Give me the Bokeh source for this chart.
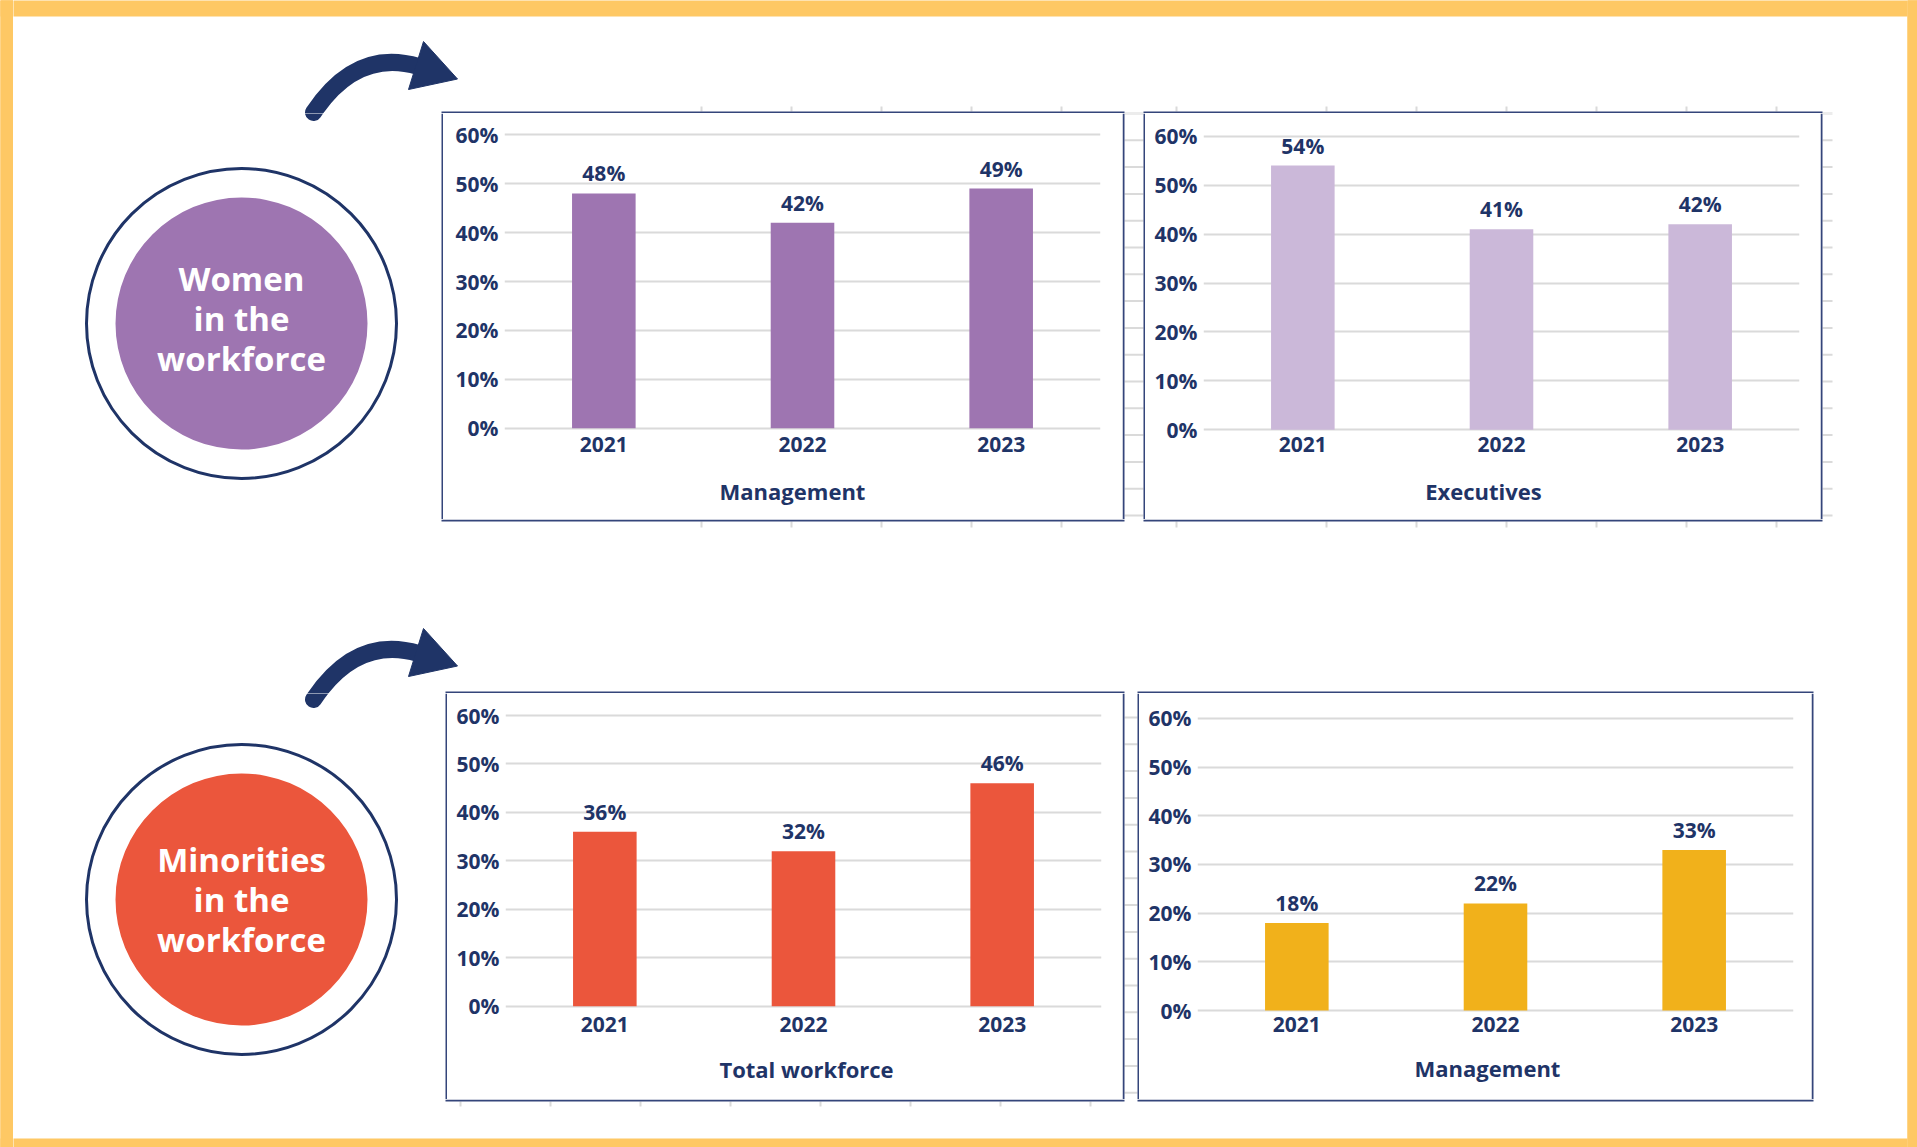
from bokeh.plotting import figure
from bokeh.layouts import row, column
from bokeh.models import Range1d, FactorRange, FixedTicker, PrintfTickFormatter, ColumnDataSource
from bokeh.core.properties import value
from bokeh.embed import file_html
from bokeh.resources import INLINE

# ---------------- data ----------------
years = ["2021", "2022", "2023"]
women_management = [48, 42, 49]
women_executives = [54, 41, 42]
minorities_total = [36, 32, 46]
minorities_management = [18, 22, 33]
pct_ticks = [0, 10, 20, 30, 40, 50, 60]
panel_titles = ["Management", "Executives", "Total workforce", "Management"]
circle_lines_women = ["Women", "in the", "workforce"]
circle_lines_minorities = ["Minorities", "in the", "workforce"]

# ---------------- style / layout ----------------
W, H = 1917, 1147
NAVY = "#1F3467"
BOXLINE = "#34457A"
GRID = "#DADADA"
ORANGE = "#FEC864"
PURPLE = "#9E75B1"
LILAC = "#CBB8D9"
RED = "#EB563C"
YELLOW = "#F1B11B"
FONT = "Open Sans"

panels = [
    dict(box=(443, 113, 1122, 519), zero=427.7, s=4.89, left=504, right=1100,
         title_xy=(792, 490.5), cat_standoff=0),
    dict(box=(1145, 113, 1820, 519), zero=429.3, s=4.893, left=1203, right=1799,
         title_xy=(1483, 490.5), cat_standoff=-2),
    dict(box=(447, 693, 1122, 1099), zero=1005.7, s=4.845, left=505, right=1101,
         title_xy=(806, 1068.5), cat_standoff=2),
    dict(box=(1139, 693, 1811, 1099), zero=1010.0, s=4.867, left=1197, right=1793,
         title_xy=(1487, 1067.5), cat_standoff=-2),
]

circles = [
    dict(cx=241, cy=323, color=PURPLE, lines=circle_lines_women, ty=277.5),
    dict(cx=241, cy=899, color=RED, lines=circle_lines_minorities, ty=859.0),
]
arrow_offsets = [0, 587]


def make_deco(x0, y0, w, h, fill="white"):
    p = figure(width=w, height=h, x_range=Range1d(x0, x0 + w), y_range=Range1d(y0 + h, y0),
               output_backend="svg", toolbar_location=None, min_border=0, frame_align=False,
               x_axis_location=None, y_axis_location=None,
               background_fill_color=fill, border_fill_color=fill)
    p.outline_line_color = None
    p.grid.visible = False

    def hit(a0, b0, a1, b1):
        return a1 > x0 and a0 < x0 + w and b1 > y0 and b0 < y0 + h

    # orange frame
    for (a0, b0, a1, b1) in [(0, 0, W, 14), (0, 1140, W, H), (0, 0, 13, H), (1907, 0, W, H)]:
        if hit(a0, b0, a1, b1):
            p.quad(left=a0 - 2, right=a1 + 2, top=b0 - 2, bottom=b1 + 2,
                   fill_color=ORANGE, line_color=None)

    # faint grey sheet marks
    segs = []
    for k in range(16):
        yy = 113 + 26.8 * k
        segs.append((1124, yy, 1143, yy))
        segs.append((1822, yy, 1832, yy))
    for k in range(15):
        yy = 717 + 26.8 * k
        segs.append((1124, yy, 1137, yy))
    for k in range(5):
        xx = 701 + 90 * k
        segs.append((xx, 106, xx, 111))
        segs.append((xx, 521, xx, 527))
    for xx in [1176] + [1326 + 90 * k for k in range(6)]:
        segs.append((xx, 106, xx, 111))
        segs.append((xx, 521, xx, 527))
    for k in range(8):
        xx = 460 + 90 * k
        segs.append((xx, 1101, xx, 1106))
    segs = [sg for sg in segs if hit(min(sg[0], sg[2]) - 1, min(sg[1], sg[3]) - 1,
                                     max(sg[0], sg[2]) + 1, max(sg[1], sg[3]) + 1)]
    if segs:
        p.segment(x0=[sg[0] for sg in segs], y0=[sg[1] for sg in segs],
                  x1=[sg[2] for sg in segs], y1=[sg[3] for sg in segs],
                  line_color=GRID, line_width=2)

    # panel box outlines (just outside each panel)
    for spec in panels:
        a0, b0, a1, b1 = spec["box"]
        for (q0, r0, q1, r1) in [(a0 - 2, b0 - 2, a1 + 2, b0), (a0 - 2, b1, a1 + 2, b1 + 2),
                                 (a0 - 2, b0, a0, b1), (a1, b0, a1 + 2, b1)]:
            if hit(q0, r0, q1, r1):
                p.quad(left=q0, right=q1, top=r0, bottom=r1, fill_color=BOXLINE, line_color=None)

    # circles
    for c in circles:
        cx, cy = c["cx"], c["cy"]
        if hit(cx - 158, cy - 158, cx + 158, cy + 158):
            p.circle(x=[cx], y=[cy], radius=155, fill_color=None, line_color=NAVY, line_width=3)
            p.circle(x=[cx], y=[cy], radius=126, fill_color=c["color"], line_color=None)
        if hit(cx - 100, cy - 70, cx + 100, cy + 70):
            ty = c["ty"]
            p.text(x=[cx] * 3, y=[ty, ty + 40, ty + 80], text=c["lines"],
                   text_font=value(FONT), text_font_style="bold", text_font_size="33px",
                   text_color="white", text_align="center", text_baseline="middle")

    # arrows
    for off in arrow_offsets:
        if hit(295, 30 + off, 460, 125 + off):
            p.quadratic(x0=[313], y0=[112 + off], x1=[418], y1=[66 + off],
                        cx=[356], cy=[47.5 + off], line_color=NAVY, line_width=17,
                        line_cap="round")
            p.patch(x=[423, 457, 408], y=[41 + off, 78.5 + off, 89 + off],
                    fill_color=NAVY, line_color=NAVY, line_width=1)
    return p


def make_panel(spec, vals, color, title):
    x0, y0, x1, y1 = spec["box"]
    w = x1 - x0
    s, zero = spec["s"], spec["zero"]
    ysplit = int(round(zero + 42))          # chart above, title strip below
    h = ysplit - y0
    bb = int(round(ysplit - (zero + 0.5 * s)))
    fh = h - bb
    start = -(y0 + fh - zero) / s
    end = start + fh / s
    p = figure(width=w, height=h, x_range=FactorRange(*years), y_range=Range1d(start, end),
               output_backend="svg", toolbar_location=None, frame_align=False,
               min_border_left=spec["left"] - x0, min_border_right=x1 - spec["right"],
               min_border_top=0, min_border_bottom=bb,
               background_fill_color="white", border_fill_color="white")
    p.outline_line_color = None
    src = ColumnDataSource(dict(year=years, val=vals, label=[f"{v}%" for v in vals]))
    p.vbar(x="year", top="val", bottom=0, width=0.32, source=src, fill_color=color, line_color=None)
    p.text(x="year", y="val", text="label", source=src, text_font=value(FONT),
           text_font_style="bold", text_font_size="21px", text_color=NAVY,
           text_align="center", text_baseline="bottom", y_offset=-6)
    p.yaxis.ticker = FixedTicker(ticks=pct_ticks)
    p.yaxis.formatter = PrintfTickFormatter(format="%d%%")
    p.ygrid.ticker = FixedTicker(ticks=pct_ticks)
    p.ygrid.grid_line_color = GRID
    p.ygrid.grid_line_width = 2
    p.xgrid.visible = False
    for ax in p.axis:
        ax.axis_line_color = None
        ax.major_tick_line_color = None
        ax.minor_tick_line_color = None
        ax.major_label_text_font = FONT
        ax.major_label_text_font_style = "bold"
        ax.major_label_text_font_size = "21px"
        ax.major_label_text_color = NAVY
    p.yaxis.major_label_standoff = 0
    p.xaxis.major_label_standoff = spec["cat_standoff"]

    # title strip (inside the panel box, below the category axis)
    strip = make_deco(x0, ysplit, w, y1 - ysplit)
    tx, ty = spec["title_xy"]
    strip.text(x=[tx], y=[ty], text=[title], text_font=value(FONT), text_font_style="bold",
               text_font_size="22px", text_color=NAVY, text_align="center",
               text_baseline="middle")
    return column(p, strip)


pA = make_panel(panels[0], women_management, PURPLE, panel_titles[0])
pB = make_panel(panels[1], women_executives, LILAC, panel_titles[1])
pC = make_panel(panels[2], minorities_total, RED, panel_titles[2])
pD = make_panel(panels[3], minorities_management, YELLOW, panel_titles[3])

top = make_deco(13, 0, 1894, 113)
r1 = row(make_deco(13, 113, 430, 406), pA, make_deco(1122, 113, 23, 406), pB,
         make_deco(1820, 113, 87, 406))
mid = make_deco(13, 519, 1894, 174)
r2 = row(make_deco(13, 693, 434, 406), pC, make_deco(1122, 693, 17, 406), pD,
         make_deco(1811, 693, 96, 406))
bot = make_deco(13, 1099, 1894, 48)
centre = column(top, r1, mid, r2, bot)

p = row(make_deco(0, 0, 13, H, fill=ORANGE), centre, make_deco(1907, 0, 10, H, fill=ORANGE))

open("out.html", "w").write(file_html(p, INLINE))
